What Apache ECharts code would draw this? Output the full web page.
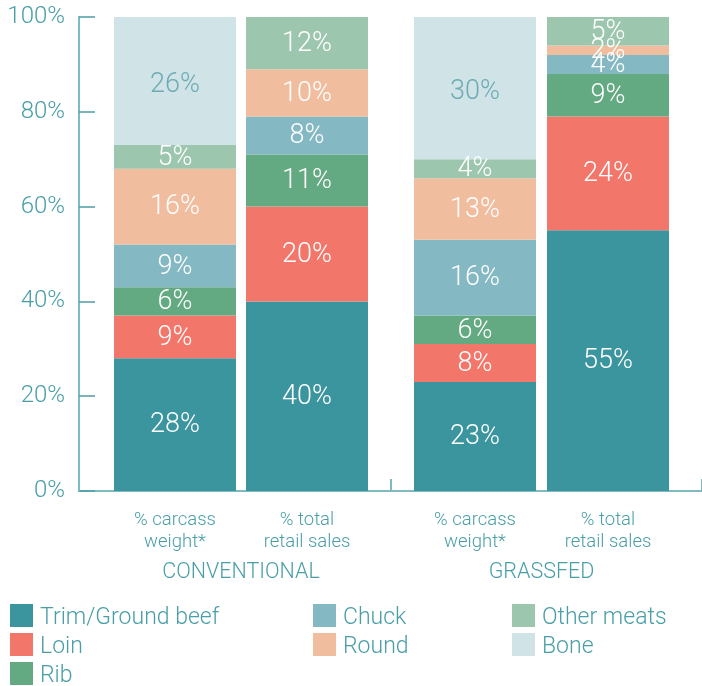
<!DOCTYPE html>
<html>
<head>
<meta charset="utf-8">
<script src="https://cdn.jsdelivr.net/npm/echarts@6/dist/echarts.min.js"></script>
<style>
html,body{margin:0;padding:0;background:#fff;}
#chart{width:702px;height:686px;}
</style>
</head>
<body>
<div id="chart"></div>
<script>
// Bars: [conventional carcass, conventional retail, grassfed carcass, grassfed retail]
const categories = ['% carcass\nweight*', '% total\nretail sales'];
const groups = ['CONVENTIONAL', 'GRASSFED'];
const partNames = ['Trim/Ground beef', 'Loin', 'Rib', 'Chuck', 'Round', 'Other meats', 'Bone'];
const partColors = ['#3b959f', '#f3766a', '#63a982', '#84b8c2', '#f0bd9f', '#9dc6ae', '#d0e3e6'];

// segment heights as measured on the picture (% of total)
const trimGround = [28, 40, 23, 55];
const loin       = [9, 20, 8, 24];
const rib        = [6, 11, 6, 9];
const chuck      = [9, 8, 16, 4];
const round      = [16, 10, 13, 2];
const otherMeats = [5, 11, 4, 6];
const bone       = [27, null, 30, null];

// printed labels
const trimGroundLabels = [28, 40, 23, 55];
const loinLabels       = [9, 20, 8, 24];
const ribLabels        = [6, 11, 6, 9];
const chuckLabels      = [9, 8, 16, 4];
const roundLabels      = [16, 10, 13, 2];
const otherMeatsLabels = [5, 12, 4, 5];
const boneLabels       = [26, null, 30, null];

const yTicks = [0, 20, 40, 60, 80, 100];

const partValues = [trimGround, loin, rib, chuck, round, otherMeats, bone];
const partLabels = [trimGroundLabels, loinLabels, ribLabels, chuckLabels, roundLabels, otherMeatsLabels, boneLabels];

const FONT = 'Roboto';
const TXT = '#4a9fa7';
const AXIS = '#7fbac1';

const chart = echarts.init(document.getElementById('chart'), null, {renderer: 'canvas'});

const series = [];
for (let g = 0; g < 2; g++) {
  for (let p = 0; p < partNames.length; p++) {
    const vals = partValues[p].slice(g * 2, g * 2 + 2);
    const labs = partLabels[p].slice(g * 2, g * 2 + 2);
    series.push({
      name: partNames[p],
      type: 'bar',
      stack: 'g' + g,
      xAxisIndex: g + 1,
      yAxisIndex: g + 1,
      barWidth: 122,
      data: vals,
      itemStyle: {color: partColors[p]},
      label: {
        show: true,
        position: 'inside',
        offset: [0, p === 6 ? 4 : 1],
        fontFamily: FONT,
        fontWeight: 300,
        fontSize: 27,
        color: p === 6 ? '#6eabb5' : '#ffffff',
        formatter: function (prm) {
          const v = labs[prm.dataIndex];
          return v == null ? '' : v + '%';
        }
      },
      emphasis: {disabled: true}
    });
  }
}

const legendBase = {
  orient: 'vertical',
  icon: 'rect',
  itemWidth: 23,
  itemHeight: 23,
  itemGap: 0,
  padding: 0,
  top: 601,
  height: 100,
  formatter: '{t|{name}}',
  textStyle: {
    fontFamily: FONT, fontWeight: 300, fontSize: 23, color: TXT,
    rich: {t: {fontFamily: FONT, fontWeight: 300, fontSize: 23, lineHeight: 23, color: TXT, padding: [6, 0, 0, 2]}}
  }
};

const option = {
  animation: false,
  backgroundColor: '#ffffff',
  grid: [
    {left: 79, right: -3, top: 17, bottom: 195, containLabel: false},
    {left: 109, width: 264, top: 17, bottom: 195, containLabel: false},
    {left: 408.5, width: 266, top: 17, bottom: 195, containLabel: false}
  ],
  xAxis: [
    {
      gridIndex: 0, type: 'category', data: ['', ''],
      axisLine: {show: true, lineStyle: {color: AXIS, width: 2}},
      axisTick: {show: true, inside: true, length: 12, lineStyle: {color: AXIS, width: 2}},
      axisLabel: {show: false}
    },
    {
      gridIndex: 1, type: 'category', data: categories,
      axisLine: {show: false}, axisTick: {show: false},
      axisLabel: {fontFamily: FONT, fontWeight: 300, fontSize: 18.5, lineHeight: 22, color: TXT, margin: 18},
      name: groups[0], nameLocation: 'middle', nameGap: 71,
      nameTextStyle: {fontFamily: FONT, fontWeight: 300, fontSize: 21.5, color: TXT}
    },
    {
      gridIndex: 2, type: 'category', data: categories,
      axisLine: {show: false}, axisTick: {show: false},
      axisLabel: {fontFamily: FONT, fontWeight: 300, fontSize: 18.5, lineHeight: 22, color: TXT, margin: 18},
      name: groups[1], nameLocation: 'middle', nameGap: 71,
      nameTextStyle: {fontFamily: FONT, fontWeight: 300, fontSize: 21.5, color: TXT}
    }
  ],
  yAxis: [
    {
      gridIndex: 0, type: 'value', min: yTicks[0], max: yTicks[yTicks.length - 1], interval: 20,
      axisLine: {show: true, lineStyle: {color: AXIS, width: 2}},
      axisTick: {show: true, inside: true, length: 16, lineStyle: {color: '#4d9ea6', width: 1.5}},
      splitLine: {show: false},
      axisLabel: {fontFamily: FONT, fontWeight: 300, fontSize: 24, color: TXT, margin: 14, padding: [5, 0, 0, 0], formatter: '{value}%'}
    },
    {gridIndex: 1, type: 'value', min: 0, max: 100, show: false},
    {gridIndex: 2, type: 'value', min: 0, max: 100, show: false}
  ],
  legend: [
    Object.assign({}, legendBase, {left: 10, data: ['Trim/Ground beef', 'Loin', 'Rib']}),
    Object.assign({}, legendBase, {left: 313, data: ['Chuck', 'Round']}),
    Object.assign({}, legendBase, {left: 512, data: ['Other meats', 'Bone']})
  ],
  series: series
};

chart.setOption(option);
</script>
</body>
</html>
